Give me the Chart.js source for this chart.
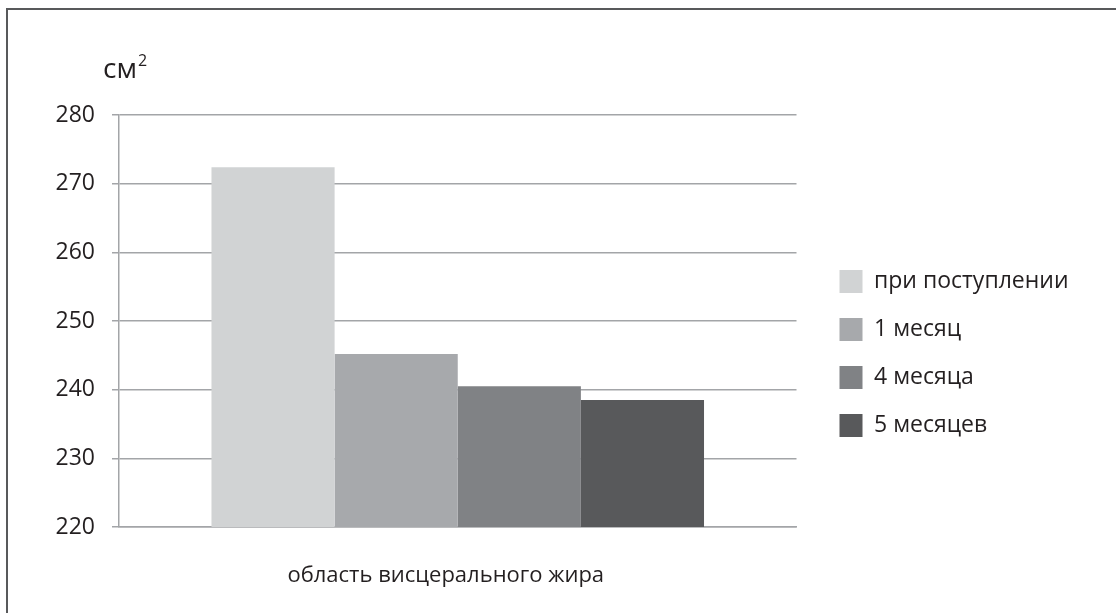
<!DOCTYPE html>
<html><head><meta charset="utf-8">
<script src="https://cdn.jsdelivr.net/npm/chart.js@4.4.0/dist/chart.umd.min.js"></script>
<style>
html,body{margin:0;padding:0;background:#fff;}
#wrap{position:relative;width:1116px;height:613px;overflow:hidden;background:#fff;}
#frame{position:absolute;left:6px;top:8px;right:-10px;bottom:-10px;border-left:2px solid #58595b;border-top:2px solid #58595b;}
canvas{position:absolute;left:0;top:0;}
</style></head><body>
<div id="wrap"><div id="frame"></div><canvas id="c" width="1116" height="613"></canvas></div>
<script>
const categories = ['область висцерального жира'];
const seriesNames = ['при поступлении', '1 месяц', '4 месяца', '5 месяцев'];
const seriesAdmission = [272.4];
const seriesMonth1 = [245.2];
const seriesMonth4 = [240.5];
const seriesMonth5 = [238.5];
const seriesColors = ['#d1d3d4', '#a7a9ac', '#808285', '#58595b'];
const yMin = 220, yMax = 280, yStep = 10;
const unitLabel = 'см', unitSup = '2';

const FONT = '"Open Sans", "Noto Sans", sans-serif';
const TXT = '#231f20';
const GRID = '#a3a5a8';
const LEGEND_SIZE = 23;

const mctx = document.createElement('canvas').getContext('2d');
mctx.font = LEGEND_SIZE + 'px ' + FONT;
const maxW = Math.max(...seriesNames.map(s => mctx.measureText(s).width));
// target: legend box left at x = 840
const padRight = Math.max(0, 1116 - 874 - maxW - 10);

const unitPlugin = {
  id: 'unit',
  afterDraw(chart) {
    const ctx = chart.ctx, ys = chart.scales.y, ca = chart.chartArea;
    ctx.save();
    ctx.fillStyle = TXT;
    ctx.textAlign = 'left';
    ctx.textBaseline = 'alphabetic';
    ctx.font = '28px ' + FONT;
    const x = ys.right - 16, y = ca.top - 37;
    ctx.fillText(unitLabel, x, y);
    const w = ctx.measureText(unitLabel).width;
    ctx.font = '16px ' + FONT;
    ctx.fillText(unitSup, x + w + 1, y - 12);
    ctx.restore();
  }
};

const datasets = [seriesAdmission, seriesMonth1, seriesMonth4, seriesMonth5].map((d, i) => ({
  label: seriesNames[i],
  data: d,
  backgroundColor: seriesColors[i],
  borderWidth: 0,
  categoryPercentage: 0.727,
  barPercentage: 1.0
}));

new Chart(document.getElementById('c'), {
  type: 'bar',
  data: { labels: categories, datasets },
  plugins: [unitPlugin],
  options: {
    responsive: false,
    animation: false,
    devicePixelRatio: 1,
    layout: { padding: { top: 115, left: 0, right: padRight, bottom: 21 } },
    plugins: {
      tooltip: { enabled: false },
      legend: {
        position: 'right',
        align: 'center',
        maxWidth: 600,
        labels: {
          boxWidth: 23, boxHeight: 23, padding: 25,
          color: TXT,
          font: { family: FONT, size: LEGEND_SIZE }
        }
      }
    },
    scales: {
      x: {
        grid: { display: true, drawOnChartArea: false, drawTicks: false },
        border: { display: true, color: GRID, width: 1.5 },
        ticks: { color: TXT, font: { family: FONT, size: 22 }, padding: 36, labelOffset: -12 },
        afterFit(s) { s.height = 65; }
      },
      y: {
        min: yMin, max: yMax,
        grid: { color: GRID, lineWidth: 1.5, tickLength: 7, drawTicks: true },
        border: { display: true, color: GRID, width: 1.5 },
        ticks: { stepSize: yStep, color: TXT, font: { family: FONT, size: 23 }, padding: 17 },
        afterFit(s) { s.width = 119; }
      },
      y2: {
        type: 'linear', position: 'right', display: true,
        grid: { display: false, drawTicks: false },
        border: { display: false },
        ticks: { display: false },
        afterFit(s) { s.width = 18; }
      }
    }
  }
});
</script>
</body></html>
